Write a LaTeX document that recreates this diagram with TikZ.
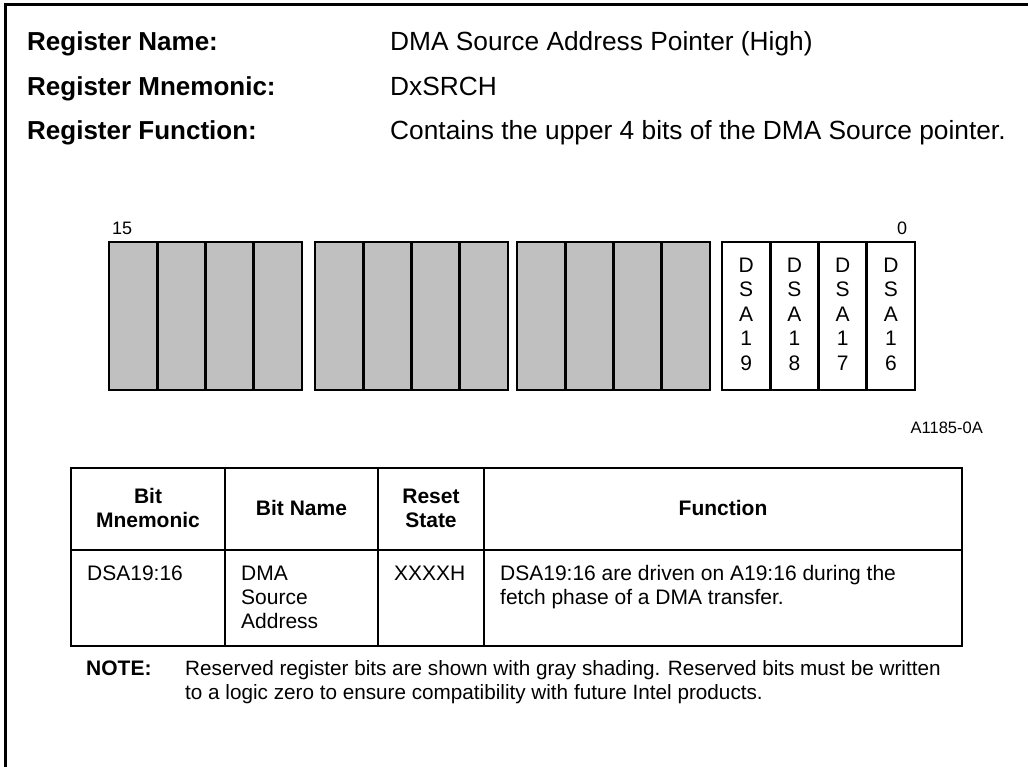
\documentclass[tikz,border=0pt]{standalone}
\usepackage{fontspec}
\setmainfont{Liberation Sans}
\definecolor{resv}{RGB}{192,192,192}
\begin{document}
\begin{tikzpicture}[x=1pt,y=-1pt,
  hdrlabel/.style={anchor=base west, inner sep=0pt, font=\fontsize{26}{30}\selectfont\bfseries},
  hdrvalue/.style={anchor=base west, inner sep=0pt, font=\fontsize{26.3}{30}\selectfont},
  bitcell/.style={draw, line width=2.6pt, minimum width=48.25pt, minimum height=148pt, inner sep=0pt},
  resvcell/.style={bitcell, fill=resv},
  bitletters/.style={align=center, inner sep=0pt, font=\fontsize{21}{24.5}\selectfont},
  bitnum/.style={inner sep=0pt, font=\fontsize{18}{22}\selectfont},
  tline/.style={line width=2.2pt},
  thead/.style={align=center, inner sep=0pt, font=\fontsize{21}{24}\selectfont\bfseries},
  tcell/.style={anchor=base west, inner sep=0pt, font=\fontsize{21}{24}\selectfont},
  notetext/.style={anchor=base west, inner sep=0pt, font=\fontsize{20.7}{24}\selectfont}]
\useasboundingbox (0,0) rectangle (1028,767);
% frame (top and left)
\coordinate (fbl) at (5.5,767);
\coordinate (ftl) at (5.5,4.5);
\coordinate (ftr) at (1028,4.5);
\draw[line width=3.2pt] (fbl) -- (ftl) -- (ftr);
% header
\node[hdrlabel] (l1) at (27,51) {Register Name:};
\node[hdrlabel] (l2) at (27,96) {Register Mnemonic:};
\node[hdrlabel] (l3) at (27,140) {Register Function:};
\node[hdrvalue] (v1) at (390,51) {DMA Source Address Pointer (High)};
\node[hdrvalue] (v2) at (390,96) {DxSRCH};
\node[hdrvalue] (v3) at (390,140) {Contains the upper 4 bits of the DMA Source pointer.};
% bit numbers
\node[bitnum, anchor=base west] (n15) at (112,235) {15};
\node[bitnum, anchor=base] (n0) at (902,235) {0};
% bit cells
\foreach \g/\gx in {0/109,1/315,2/517} {
  \foreach \i in {0,1,2,3} {
    \node[resvcell] (r\g\i) at ({\gx+24.125+48.25*\i},316) {};
  }
}
\foreach \i/\n in {0/9,1/8,2/7,3/6} {
  \node[bitcell] (d\i) at ({722+24.125+48.25*\i},316) {};
  \node[bitletters] (t\i) at ({722+24.125+48.25*\i},314) {D\\S\\A\\1\\\n};
}
\node[anchor=base east, inner sep=0pt, font=\fontsize{16.5}{20}\selectfont] (fig) at (983,433) {A1185-0A};
% table
\coordinate (a0) at (71,468); \coordinate (a1) at (962,468);
\coordinate (b0) at (71,550); \coordinate (b1) at (962,550);
\coordinate (c0) at (71,646); \coordinate (c1) at (962,646);
\draw[tline] (a0) rectangle (c1);
\draw[tline] (b0) -- (b1);
\foreach \x in {225,378,484} { \draw[tline] (\x,468) -- (\x,646); }
\node[thead] (h1) at (148,508) {Bit\\Mnemonic};
\node[thead] (h2) at (301.5,508) {Bit Name};
\node[thead] (h3) at (431,508) {Reset\\State};
\node[thead] (h4) at (723,508) {Function};
\node[tcell] (e1) at (87,580) {DSA19:16};
\node[tcell] (e2a) at (241,580) {DMA};
\node[tcell] (e2b) at (241,604) {Source};
\node[tcell] (e2c) at (241,628) {Address};
\node[tcell] (e3) at (394,580) {XXXXH};
\node[tcell] (e4a) at (500,580) {DSA19:16 are driven on A19:16 during the};
\node[tcell] (e4b) at (500,604) {fetch phase of a DMA transfer.};
% note
\node[notetext, font=\fontsize{21}{24}\selectfont\bfseries] (nt) at (86,675) {NOTE:};
\node[notetext] (nt1) at (185,675) {Reserved register bits are shown with gray shading. Reserved bits must be written};
\node[notetext] (nt2) at (185,699) {to a logic zero to ensure compatibility with future Intel products.};
\end{tikzpicture}
\end{document}
